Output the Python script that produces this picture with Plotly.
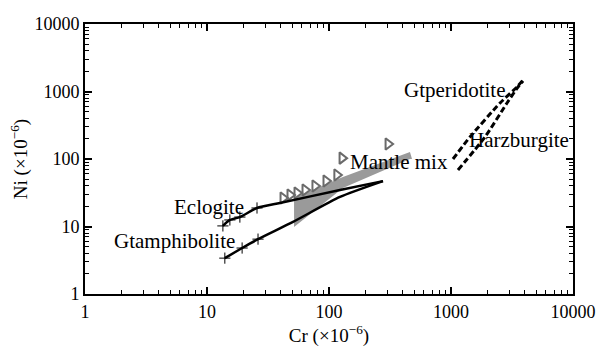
import plotly.graph_objects as go
import numpy as np

# --- data ---
ecl_cr = [13.5, 15.4, 18.6, 25.7, 39.6, 123, 277]
ecl_ni = [10.2, 12.5, 13.8, 18.8, 22.3, 34.7, 47]
ecl_tick_cr = [13.5, 15.4, 18.6, 25.7]
ecl_tick_ni = [10.2, 12.5, 13.8, 18.8]

gta_cr = [14.0, 19.4, 26.2, 50.7, 123, 277]
gta_ni = [3.4, 4.8, 6.5, 11.7, 27.4, 47]
gta_tick_cr = [14.0, 19.4, 26.2]
gta_tick_ni = [3.4, 4.8, 6.5]

mix_cr = [51.7, 130, 461, 479, 461, 130, 51.7]
mix_ni = [26.4, 54, 127, 100, 100, 37.2, 9.8]

tri_cr = [42.0, 47.9, 54.7, 63.6, 76.7, 94.5, 116, 128, 305]
tri_ni = [26.4, 29.3, 31.4, 34.7, 39.8, 47.2, 57.9, 103, 167]

gtp_cr = [1038, 1431, 2524, 3475, 3890]
gtp_ni = [100, 212, 676, 1166, 1480]

hzb_cr = [1141, 1900, 2878, 3540, 3890]
hzb_ni = [68.7, 212, 676, 1166, 1431]

labels = ["Eclogite", "Gtamphibolite", "Mantle mix", "Gtperidotite", "Harzburgite"]
label_cr = [10**1.320, 10**1.246, 10**2.156, 10**2.598, 10**3.131]
label_ni = [10**1.289, 10**0.785, 10**1.956, 10**3.022, 10**2.281]
label_anchor = ["right", "right", "left", "left", "left"]

tick_vals = [1, 10, 100, 1000, 10000]
tick_text = ["1", "10", "100", "1000", "10000"]

FONT = "Liberation Serif"

fig = go.Figure()
fig.add_trace(go.Scatter(x=mix_cr, y=mix_ni, fill="toself", mode="lines",
                         line=dict(width=0), fillcolor="#9a9a9a", hoverinfo="skip"))
fig.add_trace(go.Scatter(x=tri_cr, y=tri_ni, mode="markers",
                         marker=dict(symbol="triangle-right-open", size=10, color="#6a6a6a",
                                     line=dict(width=2, color="#6a6a6a"))))
fig.add_trace(go.Scatter(x=ecl_cr, y=ecl_ni, mode="lines", line=dict(color="black", width=2.5, shape="spline", smoothing=0.6)))
fig.add_trace(go.Scatter(x=gta_cr, y=gta_ni, mode="lines", line=dict(color="black", width=2.5, shape="spline", smoothing=0.6)))
fig.add_trace(go.Scatter(x=ecl_tick_cr, y=ecl_tick_ni, mode="markers",
                         marker=dict(symbol="cross-thin", size=8, line=dict(width=1, color="black"))))
fig.add_trace(go.Scatter(x=gta_tick_cr, y=gta_tick_ni, mode="markers",
                         marker=dict(symbol="cross-thin", size=8, line=dict(width=1, color="black"))))
fig.add_trace(go.Scatter(x=gtp_cr, y=gtp_ni, mode="lines",
                         line=dict(color="black", width=3, dash="6px,3px", shape="spline", smoothing=0.6)))
fig.add_trace(go.Scatter(x=hzb_cr, y=hzb_ni, mode="lines",
                         line=dict(color="black", width=3, dash="6px,3px", shape="spline", smoothing=0.6)))

for t, cx, cy, a in zip(labels, label_cr, label_ni, label_anchor):
    fig.add_annotation(x=np.log10(cx), y=np.log10(cy), text=t, showarrow=False,
                       xanchor=a, yanchor="middle",
                       font=dict(family=FONT, size=21, color="black"))

minor_vals = [m * 10**d for d in range(0, 4) for m in range(2, 10)]

axis_common = dict(type="log", showgrid=False, zeroline=False, showline=True, linecolor="black",
                   linewidth=2, mirror="allticks", ticks="inside", ticklen=7, tickwidth=1.5,
                   tickcolor="black", tickvals=tick_vals, ticktext=tick_text, automargin=False,
                   tickfont=dict(family=FONT, size=18, color="black"),
                   minor=dict(tickvals=minor_vals, ticks="inside", ticklen=4, tickwidth=1.2, tickcolor="black"))

fig.update_xaxes(range=[0, 4], title=dict(text="Cr (×10<sup>−6</sup>)", font=dict(family=FONT, size=19, color="black"), standoff=6), **axis_common)
fig.update_yaxes(range=[0, 4], title=dict(text="Ni (×10<sup>−6</sup>)", font=dict(family=FONT, size=19, color="black"), standoff=2), **axis_common)

fig.update_layout(width=597, height=349, margin=dict(l=85, r=24, t=24, b=55),
                  plot_bgcolor="white", paper_bgcolor="white", showlegend=False)

fig.write_html("out.html")
